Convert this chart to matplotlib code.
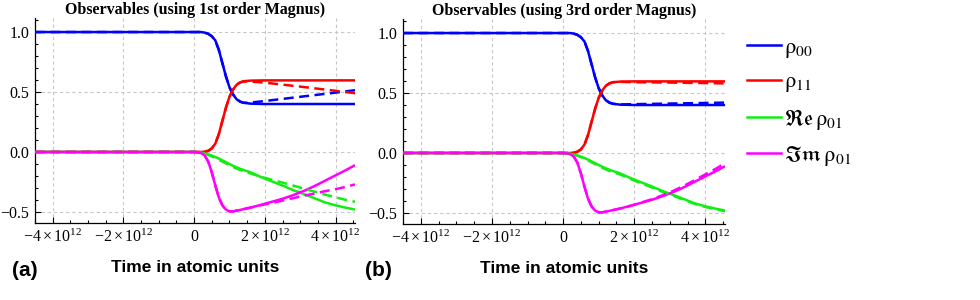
import numpy as np
import matplotlib
matplotlib.use("Agg")
import matplotlib.pyplot as plt
from matplotlib.ticker import MultipleLocator, FixedLocator, FuncFormatter
from matplotlib.lines import Line2D

plt.rcParams['font.family'] = ['Liberation Serif', 'DejaVu Serif']
plt.rcParams['mathtext.fontset'] = 'custom'
plt.rcParams['mathtext.rm'] = 'Liberation Serif'
plt.rcParams['mathtext.it'] = 'Liberation Serif:italic'
plt.rcParams['mathtext.bf'] = 'Liberation Serif:bold'
plt.rcParams['axes.unicode_minus'] = True

# ---------------- data (time in units of 1e12 atomic units) ----------------
t_pop = [-4.5, 0.0, 0.2, 0.3, 0.4, 0.5, 0.6, 0.7, 0.8, 0.9, 1.0, 1.1, 1.2, 1.3,
         1.4, 1.6, 2.0, 3.0, 4.0, 4.55]
rho00_exact = [1.0, 1.0, 1.0, 0.995, 0.985, 0.965, 0.93, 0.85, 0.74, 0.63, 0.54,
               0.48, 0.44, 0.42, 0.41, 0.403, 0.40, 0.40, 0.40, 0.40]
rho11_exact = [0.0, 0.0, 0.0, 0.003, 0.01, 0.03, 0.07, 0.15, 0.26, 0.37, 0.46,
               0.52, 0.56, 0.58, 0.59, 0.595, 0.597, 0.597, 0.597, 0.597]
rho00_m1 = [1.0, 1.0, 1.0, 0.995, 0.985, 0.965, 0.93, 0.85, 0.74, 0.63, 0.54,
            0.48, 0.44, 0.42, 0.41, 0.412, 0.425, 0.46, 0.495, 0.515]
rho11_m1 = [0.0, 0.0, 0.0, 0.003, 0.01, 0.03, 0.07, 0.15, 0.26, 0.37, 0.46,
            0.52, 0.56, 0.58, 0.588, 0.587, 0.578, 0.545, 0.51, 0.49]
rho00_m3 = [1.0, 1.0, 1.0, 0.995, 0.985, 0.965, 0.93, 0.85, 0.74, 0.63, 0.54,
            0.48, 0.44, 0.42, 0.41, 0.405, 0.407, 0.412, 0.417, 0.42]
rho11_m3 = [0.0, 0.0, 0.0, 0.003, 0.01, 0.03, 0.07, 0.15, 0.26, 0.37, 0.46,
            0.52, 0.56, 0.58, 0.59, 0.593, 0.59, 0.587, 0.583, 0.58]

t_coh = [-4.5, 0.0, 0.1, 0.2, 0.3, 0.4, 0.5, 0.6, 0.7, 0.8, 0.9, 1.0, 1.1, 1.3,
         1.6, 1.9, 2.2, 2.5, 2.8, 3.1, 3.4, 3.7, 4.0, 4.3, 4.55]
re01_exact = [0.0, 0.0, -0.002, -0.006, -0.012, -0.02, -0.03, -0.042, -0.055,
              -0.07, -0.085, -0.10, -0.115, -0.14, -0.17, -0.21, -0.245, -0.28,
              -0.318, -0.35, -0.385, -0.42, -0.445, -0.465, -0.48]
re01_m1 = [0.0, 0.0, -0.002, -0.007, -0.015, -0.025, -0.037, -0.05, -0.065,
           -0.08, -0.095, -0.11, -0.125, -0.15, -0.18, -0.207, -0.232, -0.255,
           -0.28, -0.305, -0.33, -0.355, -0.378, -0.40, -0.415]
re01_m3 = [0.0, 0.0, -0.002, -0.007, -0.014, -0.023, -0.034, -0.047, -0.061,
           -0.077, -0.093, -0.108, -0.123, -0.149, -0.179, -0.218, -0.253,
           -0.288, -0.325, -0.357, -0.391, -0.425, -0.45, -0.47, -0.485]
im01_exact = [0.0, 0.0, -0.003, -0.01, -0.03, -0.08, -0.17, -0.28, -0.38,
              -0.445, -0.48, -0.495, -0.495, -0.483, -0.463, -0.44, -0.415,
              -0.39, -0.36, -0.325, -0.285, -0.24, -0.195, -0.15, -0.11]
im01_m1 = [0.0, 0.0, -0.003, -0.01, -0.03, -0.08, -0.17, -0.28, -0.38, -0.445,
           -0.48, -0.495, -0.495, -0.483, -0.463, -0.443, -0.425, -0.405,
           -0.385, -0.365, -0.347, -0.327, -0.31, -0.29, -0.27]
im01_m3 = [0.0, 0.0, -0.003, -0.01, -0.03, -0.08, -0.17, -0.28, -0.38, -0.445,
           -0.48, -0.495, -0.495, -0.483, -0.463, -0.44, -0.413, -0.385,
           -0.352, -0.315, -0.273, -0.226, -0.178, -0.13, -0.085]

titles = ["Observables (using 1st order Magnus)",
          "Observables (using 3rd order Magnus)"]
panel_tags = ["(a)", "(b)"]
xlabel = "Time in atomic units"
x_ticks = [-4, -2, 0, 2, 4]
y_ticks = [-0.5, 0.0, 0.5, 1.0]
legend_labels = [r"$\mathrm{\rho}_{00}$", r"$\mathrm{\rho}_{11}$",
                 r"$\mathfrak{Re}\,\mathrm{\rho}_{01}$",
                 r"$\mathfrak{Im}\,\mathrm{\rho}_{01}$"]
colors = ["#0000ff", "#ff0000", "#11ee11", "#ff00ff"]

approx = [
    (rho00_m1, rho11_m1, re01_m1, im01_m1),
    (rho00_m3, rho11_m3, re01_m3, im01_m3),
]

# ---------------- figure ----------------
fig = plt.figure(figsize=(9.8, 3.0), dpi=100)
axes_rects = [
    [35 / 980, 77 / 300, 320 / 980, 205 / 300],
    [403 / 980, 76 / 300, 322 / 980, 205 / 300],
]
tag_x = [12 / 980, 365 / 980]

def xfmt(v, pos):
    if abs(v) < 1e-9:
        return "0"
    return r"$%d\times10^{12}$" % int(round(v))

lw = 1.8
for k in range(2):
    ax = fig.add_axes(axes_rects[k])
    tp = np.array(t_pop)
    tc = np.array(t_coh)
    exact = (rho00_exact, rho11_exact, re01_exact, im01_exact)
    for i, (tt, ys) in enumerate([(tp, exact[0]), (tp, exact[1]),
                                  (tc, exact[2]), (tc, exact[3])]):
        ax.plot(tt, ys, color=colors[i], lw=lw, solid_capstyle='butt', zorder=3)
    for i, (tt, ys) in enumerate([(tp, approx[k][0]), (tp, approx[k][1]),
                                  (tc, approx[k][2]), (tc, approx[k][3])]):
        ax.plot(tt, ys, color=colors[i], lw=lw, ls=(0, (4, 2.2)), zorder=4)

    ax.set_xlim(-4.5, 4.55)
    ax.set_ylim(-0.592, 1.117)
    ax.xaxis.set_major_locator(FixedLocator(x_ticks))
    ax.xaxis.set_minor_locator(MultipleLocator(0.5))
    ax.yaxis.set_major_locator(FixedLocator(y_ticks))
    ax.yaxis.set_minor_locator(MultipleLocator(0.1))
    ax.xaxis.set_major_formatter(FuncFormatter(xfmt))
    ax.yaxis.set_major_formatter(FuncFormatter(lambda v, p: ("%.1f" % v).replace("-", "\u2212")))
    ax.tick_params(which='both', direction='in', width=0.8, labelsize=11.5)
    ax.tick_params(which='major', length=4.5, pad=4)
    ax.tick_params(which='minor', length=2.5)
    for s in ['top', 'right']:
        ax.spines[s].set_visible(False)
    for s in ['left', 'bottom']:
        ax.spines[s].set_linewidth(0.9)
    ax.grid(True, which='major', color='#c8c8c8', ls=(0, (3, 2.5)), lw=0.8)
    ax.set_axisbelow(True)
    ax.set_title(titles[k], fontsize=11.5, fontweight='bold', pad=3)
    ax.set_xlabel(xlabel, fontsize=12.5, fontweight='bold',
                  family=['Liberation Sans', 'DejaVu Sans'], labelpad=10)
    fig.text(tag_x[k], 30 / 300, panel_tags[k], fontsize=15, fontweight='bold',
             family=['Liberation Sans', 'DejaVu Sans'], va='center', ha='left')

handles = [Line2D([], [], color=c, lw=lw) for c in colors]
leg = fig.legend(handles, legend_labels, loc='upper left',
                 bbox_to_anchor=(747 / 980, 1 - 37 / 300), frameon=False,
                 fontsize=16, handlelength=1.55, handletextpad=0.12,
                 labelspacing=0.55, borderpad=0, borderaxespad=0)
for t in leg.get_texts():
    t.set_math_fontfamily('stix')

fig.savefig("out.png", dpi=100)
